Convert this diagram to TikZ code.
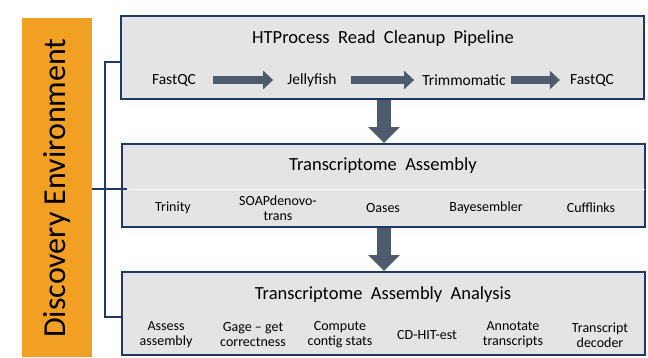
\documentclass[tikz,border=0pt]{standalone}
\usepackage{fontspec}
\setmainfont{Carlito}
\usetikzlibrary{arrows.meta, positioning}
\definecolor{EnvOrange}{HTML}{F2A024}
\definecolor{PanelGray}{HTML}{E4E4E4}
\definecolor{PanelNavy}{HTML}{1F3864}
\definecolor{FlowSlate}{HTML}{4E5B6E}

\begin{document}
\begin{tikzpicture}[x=1pt, y=-1pt,
        panel/.style={rectangle, draw=PanelNavy, line width=2pt, fill=PanelGray, minimum width=523pt, minimum height=83pt},
        paneltitle/.style={font=\fontsize{18.5}{20}\selectfont},
        tool/.style={font=\fontsize{15.5}{17}\selectfont, inner sep=0pt},
        subtool/.style={font=\fontsize{14}{15}\selectfont, align=center, inner sep=0pt},
        flow/.style={-{Triangle[width=18pt, length=10pt]}, line width=8pt, FlowSlate},
        stage/.style={-{Triangle[width=31pt, length=16pt]}, line width=14pt, FlowSlate},
        link/.style={PanelNavy, line width=1.5pt}]

    \useasboundingbox (0,0) rectangle (648,357);

    % discovery environment bar
    \node[fill=EnvOrange, minimum width=70pt, minimum height=339pt, inner sep=0pt] (env) at (57,187.5) {};
    \node[rotate=90, font=\fontsize{32}{34}\selectfont] (envlabel) at (57,188) {Discovery Environment};

    % the three panels
    \node[panel] (cleanup) at (382,57.5) {};
    \node[panel] (assembly) at (383,185.5) {};
    \node[panel] (analysis) at (383.5,313.5) {};

    \coordinate (sepW) at ([xshift=1pt, yshift=-3.5pt]assembly.west);
    \coordinate (sepE) at ([xshift=-1pt, yshift=-3.5pt]assembly.east);
    \draw[white, line width=0.8pt] (sepW) -- (sepE);

    % read cleanup pipeline
    \node[paneltitle] (cleanuptitle) at (383,39) {HTProcess\ \ Read\ \ Cleanup\ \ Pipeline};
    \node[tool] (fastqc) at (174,80) {FastQC};
    \node[tool] (jelly) at (312,80) {Jellyfish};
    \node[tool] (trimmo) at (464,80) {Trimmomatic};
    \node[tool] (fastqcb) at (592,80) {FastQC};

    \draw[flow, shorten <=17pt, shorten >=14pt] (fastqc) -- (jelly);
    \draw[flow, shorten <=14pt, shorten >=8pt] (jelly) -- (trimmo);
    \draw[flow, shorten <=5pt, shorten >=10pt] (trimmo) -- (fastqcb);

    % transcriptome assembly
    \node[paneltitle] (assemblytitle) at (383,166) {Transcriptome\ \ Assembly};
    \node[subtool] (trinity) at (173,208) {Trinity};
    \node[subtool] (soap) at (278,208) {SOAPdenovo-\\trans};
    \node[subtool] (oases) at (383,208) {Oases};
    \node[subtool] (bayes) at (486,208) {Bayesembler};
    \node[subtool] (cuff) at (591,208) {Cufflinks};

    % assembly analysis
    \node[paneltitle] (analysistitle) at (383,295) {Transcriptome\ \ Assembly\ \ Analysis};
    \node[subtool] (assess) at (166,335) {Assess\\assembly};
    \node[subtool] (gage) at (253,335) {Gage -- get\\correctness};
    \node[subtool] (contig) at (340,335) {Compute\\contig stats};
    \node[subtool] (cdhit) at (427,335) {CD-HIT-est};
    \node[subtool] (annot) at (513,335) {Annotate\\transcripts};
    \node[subtool] (decoder) at (600,335) {Transcript\\decoder};

    % stage arrows
    \draw[stage] (cleanup.south -| 384,0) -- (assembly.north -| 384,0);
    \draw[stage] (assembly.south -| 384,0) -- (analysis.north -| 384,0);

    % links to the environment
    \coordinate (spine) at (105,317);
    \draw[link] ([yshift=-4.5pt]cleanup.west) -| (spine) -- ([yshift=-3.5pt]analysis.west);
    \draw[link] (env.east |- sepW) -- ([xshift=5pt]sepW);
\end{tikzpicture}
\end{document}
